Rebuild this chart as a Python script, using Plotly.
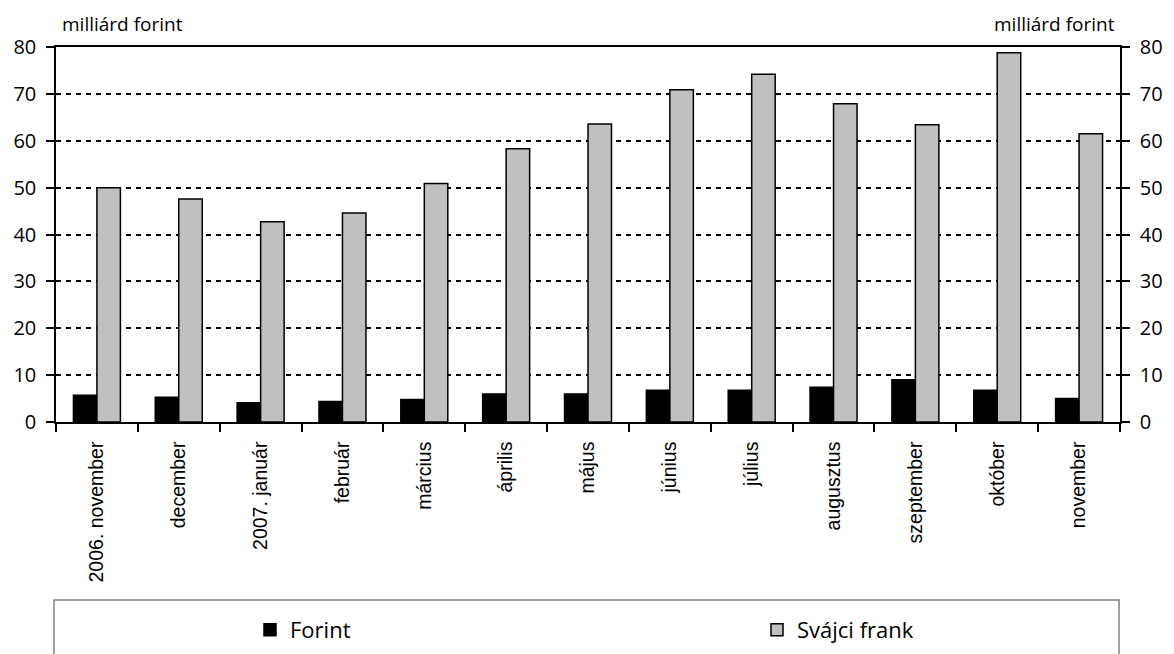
import plotly.graph_objects as go

# Monthly values, billion HUF
honapok = ["2006. november", "december", "2007. január", "február", "március",
           "április", "május", "június", "július", "augusztus", "szeptember",
           "október", "november"]
forint = [5.7, 5.3, 4.1, 4.4, 4.8, 6.0, 6.0, 6.8, 6.8, 7.4, 9.0, 6.8, 5.0]
svajci_frank = [50.0, 47.6, 42.7, 44.6, 50.9, 58.3, 63.6, 70.9, 74.2, 67.9, 63.4, 78.8, 61.5]
y_tickek = [0, 10, 20, 30, 40, 50, 60, 70, 80]

W, H = 1174, 654
L, R, T, B = 56, 54, 47, 232
plot_w = W - L - R
plot_h = H - T - B


def px_x(x):
    return (x - L) / plot_w


def px_y(y):
    return (H - B - y) / plot_h


num_font = "Open Sans, DejaVu Sans, sans-serif"
legend_font = dict(family=num_font, size=22, color="#000000")

fig = go.Figure()
fig.add_trace(go.Bar(
    x=honapok, y=forint, name="Forint", legend="legend",
    marker=dict(color="#000000", line=dict(color="#000000", width=1.5)),
))
fig.add_trace(go.Bar(
    x=honapok, y=svajci_frank, name="Svájci frank", legend="legend2",
    marker=dict(color="#c0c0c0", line=dict(color="#000000", width=1.5)),
))
# helper trace so the right-hand axis is drawn
fig.add_trace(go.Scatter(
    x=[honapok[0]], y=[None], yaxis="y2", showlegend=False,
    hoverinfo="skip", mode="lines",
))

axis_common = dict(
    range=[0, 80], tickvals=y_tickek, ticks="outside", ticklen=8,
    tickcolor="#000000", tickwidth=1.5, showline=True, linecolor="#000000",
    linewidth=1.5, tickfont=dict(family=num_font, size=20, color="#000000"),
    fixedrange=True, ticklabelstandoff=6, automargin=False,
)

fig.update_layout(
    width=W, height=H,
    margin=dict(l=L, r=R, t=T, b=B, pad=0, autoexpand=False),
    paper_bgcolor="#ffffff", plot_bgcolor="#ffffff",
    barmode="group", bargap=0.426, bargroupgap=0,
    xaxis=dict(
        type="category", range=[-0.5, len(honapok) - 0.5],
        tickangle=-90, ticks="outside", ticklen=8,
        tickson="boundaries", tickcolor="#000000", tickwidth=1.5,
        showline=True, linecolor="#000000", linewidth=1.5, mirror=True,
        showgrid=False, automargin=False, fixedrange=True,
        ticklabelstandoff=10,
        tickfont=dict(family="Liberation Sans, Arial, sans-serif", size=19.5, color="#000000"),
    ),
    yaxis=dict(
        **axis_common, side="left", showgrid=True, gridcolor="#000000",
        gridwidth=2, griddash="5px,5px", zeroline=False,
    ),
    yaxis2=dict(
        **axis_common, side="right", overlaying="y", showgrid=False,
        zeroline=False,
    ),
    showlegend=True,
    legend=dict(
        orientation="h", x=px_x(250), y=px_y(630), yanchor="middle", xanchor="left",
        font=legend_font, bgcolor="rgba(0,0,0,0)", borderwidth=0,
    ),
    legend2=dict(
        orientation="h", x=px_x(757), y=px_y(630), yanchor="middle", xanchor="left",
        font=legend_font, bgcolor="rgba(0,0,0,0)", borderwidth=0,
    ),
    annotations=[
        dict(text="milliárd forint", xref="paper", yref="paper",
             x=px_x(60), y=px_y(24), xanchor="left", yanchor="middle",
             showarrow=False, font=dict(family=num_font, size=19, color="#000000")),
        dict(text="milliárd forint", xref="paper", yref="paper",
             x=px_x(1117), y=px_y(24), xanchor="right", yanchor="middle",
             showarrow=False, font=dict(family=num_font, size=19, color="#000000")),
    ],
    shapes=[
        dict(type="rect", xref="paper", yref="paper",
             x0=px_x(54), x1=px_x(1119), y0=px_y(600), y1=px_y(670),
             line=dict(color="#808080", width=1.5), fillcolor="rgba(0,0,0,0)"),
    ],
)

fig.write_html("out.html", config={"displayModeBar": False})
